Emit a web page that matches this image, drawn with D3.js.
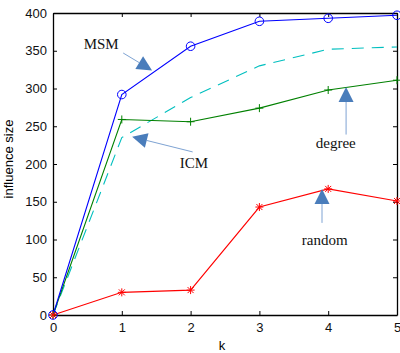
<!DOCTYPE html>
<html>
<head>
<meta charset="utf-8">
<script src="https://cdn.jsdelivr.net/npm/d3@7"></script>
<style>
  body { margin: 0; background: #fff; }
  svg { display: block; }
</style>
</head>
<body>
<div id="chart-area"></div>
<script>
// data
const kValues = [0, 1, 2, 3, 4, 5]
const msm = [0, 292, 356, 389, 393, 397]
const icm = [0, 235, 288, 330, 352, 355]
const degree = [0, 259, 256, 274, 298, 311]
const random = [0, 30, 33, 143, 167, 151]
const yTicks = [0, 50, 100, 150, 200, 250, 300, 350, 400]

// annotation labels: text at [k, value], arrow from -> to
const notes = [
    {label: "MSM", text: [0.70, 352], from: [1.02, 347], to: [1.44, 324]},
    {label: "ICM", text: [2.05, 195], from: [2.03, 216], to: [1.15, 236]},
    {label: "degree", text: [4.11, 221], from: [4.26, 239], to: [4.26, 302]},
    {label: "random", text: [3.95, 93], from: [3.91, 122], to: [3.91, 167]}
]

let MARGIN = {LEFT: 53, RIGHT: 3, TOP: 13, BOTTOM: 38}
let WIDTH = 400 - MARGIN.LEFT - MARGIN.RIGHT
let HEIGHT = 353 - MARGIN.TOP - MARGIN.BOTTOM

let svg = d3.select("#chart-area").append("svg")
    .attr("width", 400)
    .attr("height", 353)

let g = svg.append("g")
    .attr("transform", `translate(${MARGIN.LEFT}, ${MARGIN.TOP})`)

let x = d3.scaleLinear().domain([0, 5]).range([0, WIDTH])
let y = d3.scaleLinear().domain([0, 400]).range([HEIGHT, 0])

// axes, matlab style: ticks pointing inward on all four sides
const tickFont = "'Liberation Sans', Arial, sans-serif"
let xAxis = g.append("g")
    .attr("transform", `translate(0, ${HEIGHT})`)
    .call(d3.axisBottom(x).tickValues(kValues).tickFormat(d3.format("d")).tickSize(-4).tickPadding(8).tickSizeOuter(0))
let xTop = g.append("g")
    .call(d3.axisTop(x).tickValues(kValues).tickSize(-4).tickFormat("").tickSizeOuter(0))
let yAxis = g.append("g")
    .call(d3.axisLeft(y).tickValues(yTicks).tickSize(-4).tickPadding(6).tickSizeOuter(0))
let yRight = g.append("g")
    .attr("transform", `translate(${WIDTH}, 0)`)
    .call(d3.axisRight(y).tickValues(yTicks).tickSize(-4).tickFormat("").tickSizeOuter(0))

g.selectAll(".domain").attr("stroke", "#000").attr("stroke-width", 1.3)
g.selectAll(".tick line").attr("stroke", "#000")
g.selectAll(".tick text")
    .attr("font-family", tickFont)
    .attr("font-size", "13px")
    .attr("fill", "#111")

// axis labels
g.append("text")
    .attr("x", WIDTH / 2 - 3)
    .attr("y", HEIGHT + 35)
    .attr("text-anchor", "middle")
    .attr("font-family", tickFont)
    .attr("font-size", "13px")
    .text("k")

g.append("text")
    .attr("transform", "rotate(-90)")
    .attr("x", -(HEIGHT / 2) + 5)
    .attr("y", -40)
    .attr("text-anchor", "middle")
    .attr("font-family", tickFont)
    .attr("font-size", "13px")
    .text("influence size")

// series
let line = d3.line()
    .x((d, i) => x(kValues[i]))
    .y(d => y(d))

const series = [
    {name: "icm", values: icm, color: "#00bfbf", dash: "12,8"},
    {name: "degree", values: degree, color: "#008000", dash: null},
    {name: "random", values: random, color: "#ff0000", dash: null},
    {name: "msm", values: msm, color: "#0000ff", dash: null}
]

series.forEach(s => {
    g.append("path")
        .datum(s.values)
        .attr("fill", "none")
        .attr("stroke", s.color)
        .attr("stroke-width", 1.1)
        .attr("stroke-dasharray", s.dash)
        .attr("d", line)
})

// markers
g.selectAll(".circ")
    .data(msm)
    .enter().append("circle")
    .attr("cx", (d, i) => x(kValues[i]))
    .attr("cy", d => y(d))
    .attr("r", 4.3)
    .attr("fill", "none")
    .attr("stroke", "#0000ff")
    .attr("stroke-width", 1)

g.selectAll(".plus")
    .data(degree)
    .enter().append("path")
    .attr("transform", (d, i) => `translate(${x(kValues[i])}, ${y(d)})`)
    .attr("d", "M-4,0H4M0,-4V4")
    .attr("stroke", "#008000")
    .attr("stroke-width", 1)

g.selectAll(".star")
    .data(random)
    .enter().append("path")
    .attr("transform", (d, i) => `translate(${x(kValues[i])}, ${y(d)})`)
    .attr("d", "M-4,0H4M0,-4V4M-3,-3L3,3M-3,3L3,-3")
    .attr("stroke", "#ff0000")
    .attr("stroke-width", 1)

// annotations with arrows
notes.forEach(n => {
    let x1 = x(n.from[0]), y1 = y(n.from[1])
    let x2 = x(n.to[0]), y2 = y(n.to[1])
    let ang = Math.atan2(y2 - y1, x2 - x1)
    let len = 15, half = 7.5
    let bx = x2 - len * Math.cos(ang), by = y2 - len * Math.sin(ang)
    g.append("line")
        .attr("x1", x1).attr("y1", y1)
        .attr("x2", bx).attr("y2", by)
        .attr("stroke", "#7ea3d3")
        .attr("stroke-width", 1)
    let px = -Math.sin(ang), py = Math.cos(ang)
    g.append("path")
        .attr("d", `M${x2},${y2}L${bx + half * px},${by + half * py}L${bx - half * px},${by - half * py}Z`)
        .attr("fill", "#4a7dbb")
    g.append("text")
        .attr("x", x(n.text[0]))
        .attr("y", y(n.text[1]))
        .attr("text-anchor", "middle")
        .attr("font-family", "'Liberation Serif', 'Times New Roman', serif")
        .attr("font-size", "15px")
        .attr("fill", "#111")
        .text(n.label)
})
</script>
</body>
</html>
